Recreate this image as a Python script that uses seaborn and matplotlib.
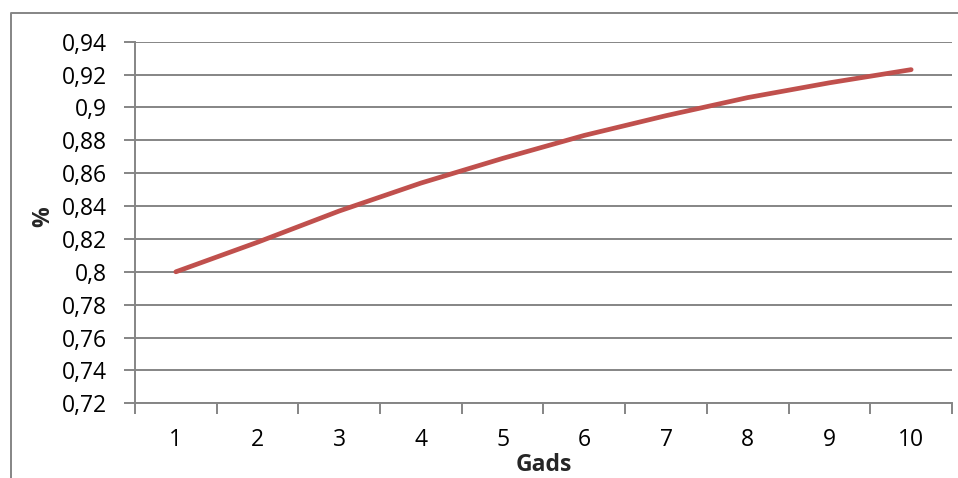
import matplotlib
matplotlib.use("Agg")
import matplotlib.pyplot as plt
from matplotlib.ticker import FixedLocator, FuncFormatter, NullFormatter
from matplotlib.lines import Line2D
import seaborn as sns
import pandas as pd

# Data
gads = [1, 2, 3, 4, 5, 6, 7, 8, 9, 10]
procenti = [0.800, 0.818, 0.837, 0.854, 0.869, 0.883, 0.895, 0.906, 0.915, 0.923]
y_ticks = [0.72, 0.74, 0.76, 0.78, 0.80, 0.82, 0.84, 0.86, 0.88, 0.90, 0.92, 0.94]

df = pd.DataFrame({"Gads": gads, "%": procenti})

sns.set_theme(style="white")
plt.rcParams["font.family"] = ["Open Sans", "DejaVu Sans"]

W, H = 958, 478
fig = plt.figure(figsize=(W / 100, H / 100), dpi=100)
left, right, top, bottom = 135, 952, 41.7, 403.3
ax = fig.add_axes([left / W, 1 - bottom / H, (right - left) / W, (bottom - top) / H])

grey = "#858585"
line_red = "#C0504D"
fs = 16.5

sns.lineplot(data=df, x="Gads", y="%", ax=ax, color=line_red, linewidth=3.4,
             solid_capstyle="round", legend=False)

ax.set_xlim(0.5, 10.5)
ax.set_ylim(0.72, 0.94)

# y axis: comma decimal separator
ax.yaxis.set_major_locator(FixedLocator(y_ticks))
ax.yaxis.set_major_formatter(FuncFormatter(lambda v, _: f"{round(v, 2):g}".replace(".", ",")))
ax.grid(axis="y", color=grey, linewidth=1.4)
ax.tick_params(axis="y", which="major", direction="out", length=8, width=1.4,
               color=grey, left=True, labelsize=fs, pad=12, labelcolor="black")

# x axis: labels at category centres, tick marks on category boundaries
ax.xaxis.set_major_locator(FixedLocator(gads))
ax.xaxis.set_minor_locator(FixedLocator([g - 0.5 for g in gads] + [gads[-1] + 0.5]))
ax.xaxis.set_minor_formatter(NullFormatter())
ax.tick_params(axis="x", which="major", length=0, labelsize=fs, pad=18, labelcolor="black")
ax.tick_params(axis="x", which="minor", direction="out", length=8, width=1.4,
               color=grey, bottom=True)
ax.grid(axis="x", visible=False)

for s in ["top", "right"]:
    ax.spines[s].set_visible(False)
for s in ["left", "bottom"]:
    ax.spines[s].set_color(grey)
    ax.spines[s].set_linewidth(1.4)

ax.set_xlabel("Gads", fontsize=fs, fontweight="bold", va="center")
ax.set_ylabel("%", fontsize=fs, fontweight="bold", va="center")
ax.xaxis.set_label_coords((543.5 - left) / (right - left), (bottom - 465) / (bottom - top))
ax.yaxis.set_label_coords((43 - left) / (right - left), (bottom - 217) / (bottom - top))

# outer chart frame
fig.add_artist(Line2D([10.5 / W, 10.5 / W, 1.0], [0.0, 1 - 12.5 / H, 1 - 12.5 / H],
                      transform=fig.transFigure, color=grey, linewidth=1.4))

fig.savefig("out.png", dpi=100, facecolor="white")
